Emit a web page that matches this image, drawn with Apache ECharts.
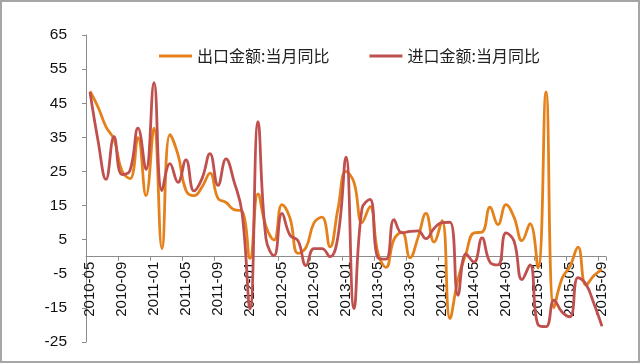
<!DOCTYPE html>
<html>
<head>
<meta charset="utf-8">
<script src="https://cdn.jsdelivr.net/npm/echarts@6/dist/echarts.min.js"></script>
<style>
html,body{margin:0;padding:0;background:#fff;}
#c{width:640px;height:363px;}
</style>
</head>
<body>
<div id="c"></div>
<script>
// Months 2010-05 .. 2015-09
var months = [];
(function(){
  var y = 2010, m = 5;
  while (y < 2015 || (y === 2015 && m <= 9)) {
    months.push(y + '-' + (m < 10 ? '0' + m : m));
    m++; if (m > 12) { m = 1; y++; }
  }
})();

var seriesNames = ['出口金额:当月同比', '进口金额:当月同比'];

var exportYoY = [
  48.5, 43.9, 38.1, 34.4, 25.1, 22.9, 34.9, 17.9,
  37.7, 2.4, 35.8, 29.9, 19.4, 17.9, 20.4, 24.5, 17.1, 15.9, 13.8, 13.4,
  -0.5, 18.4, 8.9, 4.9, 15.3, 11.3, 1.0, 2.7, 9.9, 11.6, 2.9, 14.1,
  25.0, 21.8, 10.0, 14.7, 1.0, -3.1, 5.1, 7.2, -0.3, 5.6, 12.7, 4.3,
  10.6, -18.1, -6.6, 0.9, 7.0, 7.2, 14.5, 9.4, 15.3, 11.6, 4.7, 9.7,
  -3.3, 48.3, -15.0, -6.4, -2.8, 2.8, -8.3, -5.5, -3.7
];

var importYoY = [
  48.3, 34.1, 22.7, 35.2, 24.1, 25.3, 37.7, 25.6,
  51.0, 19.4, 27.3, 21.8, 28.4, 19.3, 22.9, 30.2, 20.9, 28.7, 22.1, 13.0,
  -15.3, 39.6, 5.3, 0.3, 12.7, 6.3, 4.7, -2.6, 2.4, 2.4, 0.0, 6.0,
  29.2, -15.2, 14.1, 16.8, -0.3, -0.7, 10.9, 7.0, 7.4, 7.6, 5.3, 8.3,
  10.0, 10.1, -11.3, 0.8, -1.6, 5.5, -1.6, -2.4, 7.0, 4.6, -6.7, -2.4,
  -19.9, -20.5, -12.7, -16.2, -17.6, -6.1, -8.1, -13.8, -20.4
];

var yMin = -25, yMax = 65, yStep = 10;

var gridTop = 35, gridBottom = 21, H = 363;
var gridH = H - gridTop - gridBottom;
// shift the category axis up so it sits on the zero line
var xOffset = -gridH * (0 - yMin) / (yMax - yMin);

var chart = echarts.init(document.getElementById('c'), null, {renderer: 'canvas'});
var labelFont = '"Liberation Sans", "DejaVu Sans", sans-serif';
chart.setOption({
  animation: false,
  backgroundColor: '#fff',
  graphic: [{
    type: 'rect', z: 100, silent: true,
    shape: {x: 1, y: 1, width: 638, height: 361},
    style: {fill: 'none', stroke: '#a6a6a6', lineWidth: 2}
  }],
  legend: {
    left: 154, top: 43,
    itemWidth: 33, itemHeight: 3, itemGap: 40,
    icon: 'rect',
    textStyle: {fontSize: 16, color: '#222', fontFamily: '"Noto Sans CJK SC", sans-serif', padding: [0,0,0,0]},
    data: seriesNames
  },
  grid: {left: 86, right: 34, top: gridTop, bottom: gridBottom, containLabel: false, outerBoundsMode: 'none'},
  xAxis: {
    type: 'category',
    data: months,
    boundaryGap: true,
    offset: xOffset,
    z: 0,
    axisLine: {onZero: false, lineStyle: {color: '#8c8c8c', width: 1}},
    axisTick: {show: true, interval: 3, length: 4, inside: false, lineStyle: {color: '#8c8c8c'}},
    axisLabel: {interval: 3, rotate: 90, margin: 5, fontSize: 15, color: '#111', fontFamily: labelFont},
    splitLine: {show: false}
  },
  yAxis: {
    type: 'value',
    min: yMin, max: yMax, interval: yStep,
    axisLine: {show: true, onZero: false, lineStyle: {color: '#8c8c8c', width: 1}},
    axisTick: {show: true, length: 4, lineStyle: {color: '#8c8c8c'}},
    axisLabel: {margin: 19, fontSize: 15.5, color: '#111', fontFamily: labelFont},
    splitLine: {show: false}
  },
  series: [{
    name: seriesNames[0], type: 'line', data: exportYoY,
    smooth: 0.45, showSymbol: false, symbol: 'none', zlevel: 1, z: 3,
    itemStyle: {color: '#E5811B'},
    lineStyle: {color: '#E5811B', width: 2.8}
  }, {
    name: seriesNames[1], type: 'line', data: importYoY,
    smooth: 0.45, showSymbol: false, symbol: 'none', zlevel: 1, z: 4,
    itemStyle: {color: '#C0504D'},
    lineStyle: {color: '#C0504D', width: 2.8}
  }]
});
</script>
</body>
</html>
